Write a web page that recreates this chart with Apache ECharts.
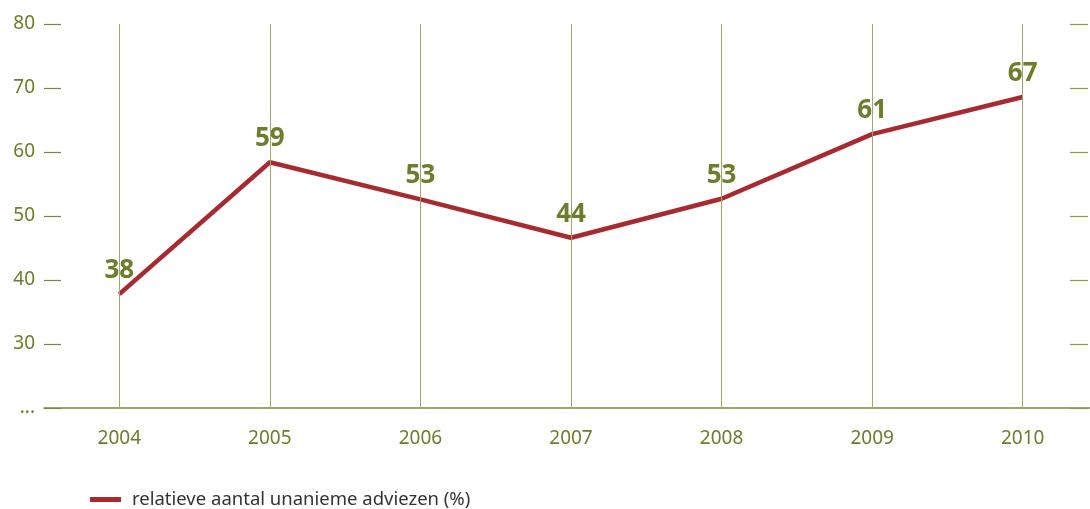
<!DOCTYPE html>
<html>
<head>
<meta charset="utf-8">
<script src="https://cdn.jsdelivr.net/npm/echarts@6/dist/echarts.min.js"></script>
<style>html,body{margin:0;padding:0;background:#fff}#c{width:1090px;height:509px}</style>
</head>
<body>
<div id="c"></div>
<script>
var categories = ['2004','2005','2006','2007','2008','2009','2010'];
var seriesName = 'relatieve aantal unanieme adviezen (%)';
var values = [37.8, 58.4, 52.6, 46.6, 52.7, 62.8, 68.6];
var valueLabels = ['38','59','53','44','53','61','67'];
var yMin = 20, yMax = 80, yStep = 10;
var yBottomLabel = '...';

var olive = '#6d7d2b';
var red = '#a8292f';
var font = '"Noto Sans", "Open Sans", sans-serif';

var chart = echarts.init(document.getElementById('c'), null, {renderer: 'canvas'});
chart.setOption({
  animation: false,
  grid: {left: 44, width: 1054, top: 24, height: 384, containLabel: false, outerBoundsMode: 'none'},
  legend: {
    data: [seriesName],
    left: 85, top: 485,
    icon: 'rect', itemWidth: 31, itemHeight: 5,
    itemStyle: {color: red, opacity: 1},
    textStyle: {color: '#333', fontSize: 18.5, fontFamily: font, padding: [0,0,0,6]}
  },
  xAxis: {
    type: 'category', data: categories, boundaryGap: true,
    axisLine: {lineStyle: {color: '#7b8a35', width: 1.5}},
    axisTick: {show: false},
    axisLabel: {color: olive, fontSize: 19, fontFamily: font, margin: 21},
    splitLine: {show: false}
  },
  yAxis: [{
    type: 'value', min: yMin, max: yMax, interval: yStep, position: 'left',
    axisLine: {show: false},
    axisTick: {show: true, inside: true, length: 17, lineStyle: {color: '#7b8a35', width: 1.2}},
    axisLabel: {color: olive, fontSize: 19, fontFamily: font, margin: 9,
      formatter: function (v) { return v === yMin ? yBottomLabel : String(v); }},
    splitLine: {show: false}
  }, {
    type: 'value', min: yMin, max: yMax, interval: yStep, position: 'right', offset: -10,
    axisLine: {show: false},
    axisTick: {show: true, inside: true, length: 18, lineStyle: {color: '#8d9a4a', width: 1.2}},
    axisLabel: {show: false},
    splitLine: {show: false}
  }],
  series: [{
    name: 'grid-lines', type: 'line', data: [], z: 1, silent: true,
    markLine: {
      silent: true, symbol: ['none','none'], label: {show: false},
      lineStyle: {color: '#9ea66a', width: 1, type: 'solid'},
      emphasis: {disabled: true},
      data: categories.map(function (c) { return {xAxis: c}; })
    }
  }, {
    name: seriesName, type: 'line', data: values, z: 3,
    symbol: 'circle', symbolSize: 1, showSymbol: true, smooth: false,
    lineStyle: {color: red, width: 4.5},
    itemStyle: {color: red, opacity: 0},
    label: {
      show: true, position: 'top', distance: 10, opacity: 1,
      color: olive, fontSize: 26, fontWeight: 'bold', fontFamily: font,
      formatter: function (p) { return valueLabels[p.dataIndex]; }
    }
  }]
});
</script>
</body>
</html>
